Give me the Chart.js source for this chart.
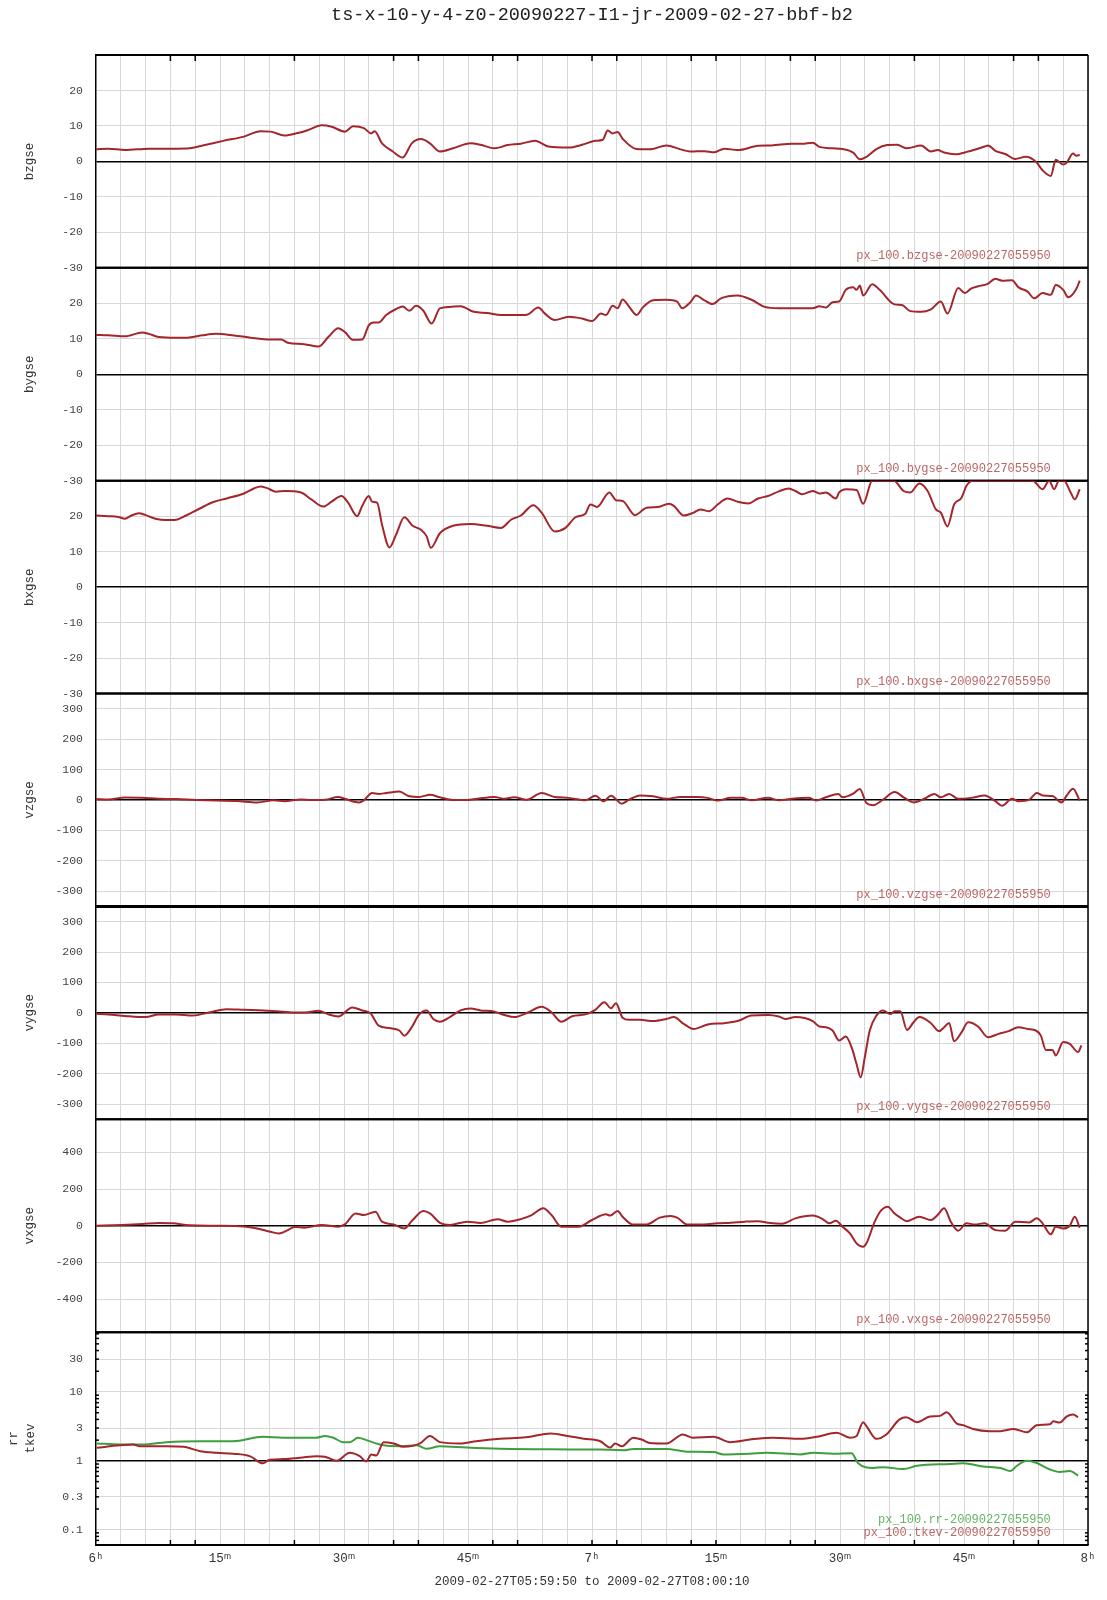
<!DOCTYPE html>
<html><head><meta charset="utf-8">
<script src="https://cdn.jsdelivr.net/npm/chart.js@4.4.1/dist/chart.umd.min.js"></script>
<style>html,body{margin:0;padding:0;background:#fff}#wrap{width:1107px;height:1600px}</style>
</head><body><div id="wrap"><canvas id="c" width="1107" height="1600"></canvas></div>
<script>
// ---- data (time in minutes after 06:00) ----
const bzT = [0,1.5,3.5,6.4,9.7,11.3,12.9,15.4,17.9,19.9,21.1,22.8,24.4,25.6,27.3,28.5,30.1,31.1,32.4,33.3,33.7,34.6,35.9,37.1,38.2,39.3,40.4,41.6,43.2,45.3,46.5,48.2,49.8,51.4,53.1,54.7,57.2,58.8,60.4,61.3,61.9,62.5,63.1,63.7,65.4,67,69,70.7,71.9,73.6,74.8,76,77.6,80.1,81.7,84.2,85.4,86.7,87.5,89.1,90.3,91.6,92.4,93.2,94.4,95.7,96.9,98.1,99.8,101,101.8,102.6,103.9,105.5,107.5,107.9,108.8,110,111.2,112.5,113.7,114.5,115.5,116.1,117,117.4,118.2,118.6,119];
const bzV = [3.4,3.6,3.2,3.6,3.6,3.7,4.5,5.8,7.0,8.5,8.4,7.3,8.0,8.8,10.2,9.8,8.4,9.9,9.4,7.9,8.5,5.1,2.8,1.1,5.1,6.3,5.1,2.8,3.7,5.1,4.7,3.7,4.6,5.0,5.8,4.2,3.9,4.7,5.8,6.1,8.7,7.9,8.3,6.4,3.5,3.4,4.5,3.4,2.8,2.9,2.6,3.6,3.2,4.4,4.5,5.0,5.0,5.3,4.1,3.7,3.5,2.5,0.6,1.3,3.5,4.6,4.7,3.7,4.5,2.8,3.2,2.5,2.0,2.8,4.2,4.5,3.0,2.1,0.7,1.3,-0.1,-2.5,-4.1,0.5,-0.9,-0.4,2.2,1.6,1.8];

const byT = [0,1.5,3.5,5.6,6.4,7.6,9.7,11.3,12.9,14.6,16.2,18.7,21.1,22.4,23.2,25.2,26.9,28.1,29.3,30.1,31.1,32.2,33.0,33.6,34.2,35.1,36.3,37.1,37.9,38.7,39.6,40.6,41.6,42.8,44.1,45.7,47.3,49.0,50.6,52.1,53.5,54.3,55.5,57.2,58.8,60.0,61.1,61.7,62.5,63.1,63.7,64.5,65.4,66.2,67.4,69.0,70.3,70.9,71.9,72.6,73.5,74.6,75.6,77.6,79.3,80.9,82.6,86.7,87.5,88.3,89.1,89.9,90.7,91.6,92.0,92.4,92.8,93.9,94.8,96.6,97.5,98.5,99.8,101.0,102.2,103.0,104.3,105.1,105.9,106.7,107.8,108.8,109.6,110.8,111.6,112.7,113.5,114.5,115.5,116.1,117.0,117.6,118.6,119.0];
const byV = [11.1,11.0,10.7,11.8,11.4,10.5,10.3,10.4,11.0,11.4,11.1,10.3,9.8,9.8,8.9,8.5,7.8,10.5,13.0,11.9,9.7,9.8,13.8,14.6,14.6,16.7,18.4,19.1,17.9,19.3,17.9,14.3,18.6,19.0,19.2,17.6,17.3,16.7,16.7,16.8,18.8,17.1,15.3,16.2,15.7,15.0,17.1,16.7,19.3,18.6,21.1,19.0,16.7,19.0,20.9,21.0,20.5,18.6,20.3,22.2,21.0,19.8,21.4,22.2,21.0,19.0,18.6,18.6,19.2,18.8,20.3,20.5,23.8,24.5,23.8,25.0,22.2,25.4,23.8,19.7,19.5,17.8,17.6,18.3,20.5,17.1,24.3,22.9,24.2,24.8,25.4,26.9,26.4,26.5,24.5,23.3,21.4,22.9,22.4,25.2,23.8,21.7,24.1,26.4];

const bxT = [0,1.5,2.7,3.5,4.3,5.2,6.0,7.2,8.4,9.7,10.9,12.5,14.2,15.8,17.9,19.1,19.9,20.7,21.8,22.8,24.8,26.0,27.5,28.5,29.7,30.5,31.6,32.2,33.0,33.4,34.0,34.6,35.5,36.3,37.3,38.3,39.3,40.0,40.5,41.6,43.2,45.3,47.3,49.0,50.2,51.4,52.9,53.9,55.5,56.8,58.0,59.2,59.8,60.6,62.1,62.9,63.7,65.2,66.6,68.0,69.3,69.9,71.1,72.3,73.1,74.2,75.2,76.4,77.6,78.9,80.1,81.3,82.6,83.8,84.6,85.4,86.7,87.5,88.3,89.5,89.9,90.7,92.0,92.8,93.9,96.5,97.7,98.5,99.6,100.6,101.6,102.2,103.0,103.8,104.7,105.3,106.1,113.3,114.5,115.3,115.9,116.5,117.1,117.9,118.4,119.0];
const bxV = [20.2,20.0,19.8,19.3,20.2,20.8,20.3,19.3,18.9,19.0,20.2,22.1,24.0,25.0,26.4,27.8,28.4,27.9,26.9,27.1,26.7,24.8,22.7,24.1,25.7,23.8,20.0,22.9,25.7,24.1,23.8,17.6,11.2,14.8,19.7,17.3,16.2,14.3,11.1,15.2,17.3,17.8,17.3,16.7,19.0,20.2,23.1,21.0,15.7,16.7,19.7,20.7,23.3,22.6,26.7,24.5,24.3,20.3,22.4,22.6,23.5,22.9,20.2,21.0,21.9,21.4,23.3,25.0,24.1,23.6,25.0,25.7,27.0,27.8,27.1,26.2,27.1,26.4,26.7,25.0,26.7,27.6,27.4,23.5,30,30,27.1,26.7,29.2,27.1,21.9,21.0,17.1,23.3,25.2,28.6,30,30,27.6,30,27.6,30,30,26.7,24.8,27.6];

const vzT = [0,1.5,3.5,5.6,7.6,9.7,12.1,14.6,17.0,19.5,21.5,22.8,24.8,26.0,27.7,29.3,30.1,31.8,32.4,33.4,34.2,35.1,36.7,37.9,39.1,40.4,41.6,43.2,44.9,46.1,48.2,49.4,50.6,52.1,53.9,55.5,57.2,59.2,60.4,61.4,62.3,63.6,64.5,65.8,67.4,69.0,70.7,72.7,74.0,75.2,76.8,78.1,79.3,81.3,82.6,84.2,86.2,87.1,88.3,89.8,90.3,91.6,92.4,93.2,94.0,95.2,96.6,97.7,98.9,100.2,101.4,102.2,103.2,104.3,105.9,107.5,108.8,109.6,110.8,111.6,112.9,113.8,114.5,115.7,116.8,117.4,118.2,119.0];
const vzV = [3,2,8,7,4,3,0,-2,-3,-8,-1,-4,2,0,1,10,4,-8,-1,23,20,23,28,12,10,17,9,0,0,4,10,4,9,1,23,10,7,-1,14,-4,14,-12,1,15,12,4,10,10,7,-2,7,7,-1,7,-1,4,7,-2,9,20,9,21,36,-10,-17,1,26,9,-8,4,20,9,20,4,7,15,-4,-19,4,-4,1,23,15,13,-8,14,37,-2];

const vyT = [0,1.5,3.5,6.0,7.6,9.7,11.7,13.8,15.8,17.9,20.3,21.9,24.0,25.6,26.9,28.1,29.3,31.0,32.2,33.2,34.2,35.5,36.7,37.3,38.2,39.1,40.0,40.8,41.6,42.8,44.1,45.3,46.5,48.2,49.4,50.6,52.3,53.9,55.1,56.3,57.6,59.2,60.4,61.5,62.3,62.9,63.7,64.5,65.8,67.4,69.0,69.9,71.1,72.3,74.0,76.0,77.6,79.3,81.3,82.6,83.4,84.6,86.7,87.5,88.3,89.1,89.9,90.7,91.4,92.0,92.5,93.0,93.6,94.4,95.2,96.1,96.6,97.3,98.1,98.9,99.6,101.0,102.0,102.6,103.2,103.8,104.7,105.5,106.7,107.9,109.2,110.4,111.6,112.7,113.7,114.3,114.9,115.7,116.1,117.0,117.8,118.8,119.2];
const vyV = [-3,-5,-10,-14,-5,-5,-9,2,12,10,8,5,1,2,7,-5,-12,18,8,-1,-42,-50,-58,-75,-47,-5,8,-20,-29,-14,8,14,8,4,-7,-14,2,20,2,-29,-11,-5,10,35,15,32,-16,-23,-23,-27,-20,-14,-36,-53,-38,-34,-27,-9,-7,-12,-20,-14,-27,-45,-47,-58,-91,-78,-113,-168,-212,-146,-58,-9,8,-4,5,5,-56,-31,-14,-34,-60,-47,-33,-93,-64,-31,-45,-80,-69,-60,-47,-53,-58,-75,-122,-122,-140,-96,-102,-129,-107];

const vxT = [0,3.1,5.6,7.6,9.3,11.3,14.6,17.9,19.5,21.1,22.1,23.2,24.0,25.2,27.3,29.3,30.1,31.4,32.4,33.8,34.6,36.0,37.3,38.3,39.6,40.4,41.6,42.8,44.9,46.5,48.6,49.8,51.4,52.7,54.1,55.1,56.3,58.4,60.0,61.7,62.2,63.1,63.7,64.9,66.6,68.2,69.5,70.3,71.5,73.5,75.2,76.8,78.5,80.1,81.3,83.0,84.6,86.7,87.9,88.7,89.5,90.3,91.2,92.0,92.8,93.2,94.2,95.0,95.8,96.5,97.3,98.1,99.6,101.0,101.8,102.6,103.4,104.3,105.3,106.3,107.5,108.8,110.0,111.2,112.9,113.8,114.5,115.5,116.1,117.0,117.8,118.4,119.0];
const vxV = [0,4,9,15,13,2,0,-4,-15,-33,-42,-24,-7,-11,4,-5,7,67,58,76,22,7,-15,31,80,67,16,4,22,15,35,22,36,58,95,58,-5,-5,31,62,55,80,49,7,7,44,53,44,7,7,13,16,22,25,16,11,40,55,36,13,27,-5,-42,-96,-115,-96,22,85,104,71,44,25,49,31,58,95,22,-27,13,7,13,-24,-27,22,18,40,13,-47,-5,-15,0,49,-11];

const rrT = [0.1,2.9,5.7,8.5,12.6,16.6,20.2,22.7,26.7,27.7,28.7,29.9,30.7,31.7,32.7,34.8,36.8,38.8,40.0,41.6,44.8,48.9,55,61.0,64.0,65.0,69.0,71.5,74.7,75.9,79.1,81.1,85.2,86.8,89.2,91.4,92.2,94.0,95.2,97.7,99.3,103.3,104.9,107.3,109.4,110.6,111.4,112.6,113.8,115.4,116.6,117.8,118.8];
const rrV = [1.79,1.73,1.73,1.87,1.93,1.93,2.24,2.17,2.17,2.3,2.17,1.87,1.87,2.17,2.0,1.68,1.63,1.68,1.5,1.63,1.56,1.5,1.47,1.46,1.43,1.49,1.49,1.36,1.34,1.24,1.27,1.31,1.24,1.31,1.27,1.29,0.92,0.79,0.81,0.76,0.85,0.9,0.92,0.83,0.79,0.71,0.85,1.0,0.93,0.75,0.69,0.71,0.61];

const tkT = [0.1,2.9,4.5,5.3,8.5,10.6,12.6,14.6,16.6,18.6,20.2,21.0,22.7,24.7,26.7,27.7,29.1,30.7,31.9,32.7,33.3,33.9,34.8,36.0,37.2,39.2,40.4,41.6,44.0,46.0,48.9,52,55,57,59,61.0,62.2,62.8,63.6,65.0,66.0,67.0,69.0,71.0,72.2,74.7,76.7,79.1,81.9,85.2,87.2,89.6,91.2,92.0,92.8,93.2,94.4,95.6,97.2,98.0,99.3,100.9,102.1,102.9,104.1,104.9,106.1,108.1,109.4,111.0,112.6,113.8,115.4,115.8,116.6,117.4,118.2,118.8];
const tkV = [1.55,1.68,1.73,1.63,1.63,1.6,1.38,1.31,1.27,1.17,0.92,1.04,1.06,1.11,1.17,1.15,1.0,1.31,1.17,0.98,1.24,1.2,1.87,1.79,1.6,1.79,2.3,1.87,1.79,1.93,2.09,2.2,2.5,2.3,2.1,1.93,1.56,1.79,1.63,2.17,2.04,1.82,1.79,2.42,2.17,2.24,1.87,2.04,2.17,2.09,2.24,2.56,2.17,2.3,3.65,3.2,2.09,2.42,4.0,4.3,3.65,4.4,4.5,5.1,3.5,3.3,2.9,2.7,2.7,2.9,2.6,3.3,3.4,3.75,3.6,4.4,4.7,4.3];

// ---- ticks / labels ----
const ticksB = [-30,-20,-10,0,10,20];
const ticksV = [-300,-200,-100,0,100,200,300];
const ticksVx = [-400,-200,0,200,400];
const ticksLog = [0.1,0.3,1,3,10,30];
const xLabelMinutes = [0,15,30,45,60,75,90,105,120];
const xLabels = ['6ʰ','15ᵐ','30ᵐ','45ᵐ','7ʰ','15ᵐ','30ᵐ','45ᵐ','8ʰ'];
const markMinutes = [9,12,24,36,39,48,51,60,63,72,75,84,87,99,111,114];
const gridMinutes = Array.from({length:41},(_,i)=>i*3);
const stamp = '20090227055950';
const chartTitle = 'ts-x-10-y-4-z0-20090227-I1-jr-2009-02-27-bbf-b2';
const xTitle = '2009-02-27T05:59:50 to 2009-02-27T08:00:10';

const RED = '#a3262c', GREEN = '#3e9e3e';
const FONT = 'Liberation Mono, DejaVu Sans Mono, monospace';

const panels = [
  {id:'y1', title:'bzgse', min:-30, max:30, ticks:ticksB, base:0},
  {id:'y2', title:'bygse', min:-30, max:30, ticks:ticksB, base:0},
  {id:'y3', title:'bxgse', min:-30, max:30, ticks:ticksB, base:0},
  {id:'y4', title:'vzgse', min:-350, max:350, ticks:ticksV, base:0},
  {id:'y5', title:'vygse', min:-350, max:350, ticks:ticksV, base:0},
  {id:'y6', title:'vxgse', min:-580, max:580, ticks:ticksVx, base:0},
  {id:'y7', title:['rr','tkev'], min:0.06, max:74, ticks:ticksLog, base:1, log:true}
];

const series = [
  {name:'bzgse', t:bzT, v:bzV, axis:'y1', color:RED},
  {name:'bygse', t:byT, v:byV, axis:'y2', color:RED},
  {name:'bxgse', t:bxT, v:bxV, axis:'y3', color:RED},
  {name:'vzgse', t:vzT, v:vzV, axis:'y4', color:RED},
  {name:'vygse', t:vyT, v:vyV, axis:'y5', color:RED},
  {name:'vxgse', t:vxT, v:vxV, axis:'y6', color:RED},
  {name:'tkev', t:tkT, v:tkV, axis:'y7', color:RED},
  {name:'rr', t:rrT, v:rrV, axis:'y7', color:GREEN}
];

const scales = {
  x: {
    type:'linear', min:0, max:120, position:'bottom',
    afterBuildTicks: s => { s.ticks = gridMinutes.map(v => ({value:v})); },
    afterFit: s => { s.height = 55; },
    ticks:{autoSkip:false, maxRotation:0, minRotation:0, padding:6, color:'#333',
      font:{family:FONT, size:12.5},
      callback: v => { const i = xLabelMinutes.indexOf(v); return i >= 0 ? xLabels[i] : ''; }},
    grid:{drawTicks:false, color:'#d8d8d8', lineWidth:1},
    border:{display:true, color:'#000', width:1.5},
    title:{display:true, text:xTitle, color:'#333', font:{family:FONT, size:12.5, lineHeight:1.2}, padding:{top:0, bottom:10.8}}
  }
};
panels.forEach((p, i) => {
  scales[p.id] = {
    type: p.log ? 'logarithmic' : 'linear',
    position:'left', stack:'panels', stackWeight:1, weight: panels.length - i,
    min:p.min, max:p.max,
    afterBuildTicks: s => { s.ticks = p.ticks.map(v => ({value:v})); },
    afterFit: s => { s.width = 96; },
    ticks:{autoSkip:false, padding:13, color:'#444', font:{family:FONT, size:11.5}, callback: v => String(v)},
    grid:{drawTicks:false,
      color: c => (c.tick && c.tick.value === p.base) ? '#000' : '#d8d8d8',
      lineWidth: c => (c.tick && c.tick.value === p.base) ? 1.5 : 1},
    border:{display:true, color:'#000', width:1.5},
    title: p.log
      ? {display:true, text:p.title, color:'#333', font:{family:FONT, size:12.5, lineHeight:17/12.5}, padding:{top:4.8, bottom:0}}
      : {display:true, text:p.title, color:'#333', font:{family:FONT, size:12.5, lineHeight:1.2}, padding:{top:22.2, bottom:0}}
  };
});

const deco = {
  id:'deco',
  beforeDatasetsDraw(chart) {
    const ctx = chart.ctx, ca = chart.chartArea, xs = chart.scales.x;
    ctx.save();
    ctx.strokeStyle = '#000';
    const line = (x1,y1,x2,y2,w) => { ctx.lineWidth = w; ctx.beginPath(); ctx.moveTo(x1,y1); ctx.lineTo(x2,y2); ctx.stroke(); };
    panels.forEach(p => {
      const s = chart.scales[p.id];
      line(ca.left, s.top, ca.right, s.top, 2);
      line(ca.left, s.bottom, ca.right, s.bottom, p.id === 'y4' ? 3 : 2);
    });
    line(ca.right, ca.top, ca.right, ca.bottom, 1.5);
    markMinutes.forEach(m => {
      const x = xs.getPixelForValue(m);
      line(x, ca.top, x, ca.top + 6, 1.5);
      line(x, ca.bottom, x, ca.bottom - 5, 1.5);
    });
    const ls = chart.scales.y7;
    for (let e = -2; e <= 1; e++) {
      for (let k = 2; k <= 9; k++) {
        const v = k * Math.pow(10, e);
        if (v < ls.min || v > ls.max) continue;
        const y = ls.getPixelForValue(v);
        line(ca.left, y, ca.left + 3, y, 1.5);
        line(ca.right, y, ca.right - 3, y, 1.5);
      }
    }
    ctx.restore();
  },
  afterDatasetsDraw(chart) {
    const ctx = chart.ctx;
    ctx.save();
    ctx.font = '12px ' + FONT;
    ctx.textAlign = 'right';
    ctx.textBaseline = 'middle';
    const xr = chart.scales.x.getPixelForValue(115.5);
    series.forEach(s => {
      const sc = chart.scales[s.axis];
      let off = 12;
      if (s.name === 'rr') off = 25;
      ctx.fillStyle = s.color === GREEN ? '#66b466' : '#bb6666';
      ctx.fillText('px_100.' + s.name + '-' + stamp, xr, sc.bottom - off);
    });
    ctx.restore();
  }
};

new Chart(document.getElementById('c'), {
  type:'line',
  data:{
    datasets: series.map(s => ({
      label: s.name,
      data: s.t.map((x, i) => ({x, y:s.v[i]})),
      yAxisID: s.axis, xAxisID:'x',
      borderColor: s.color, borderWidth:2, pointRadius:0,
      cubicInterpolationMode:'monotone', fill:false
    }))
  },
  options:{
    responsive:false, animation:false, devicePixelRatio:1,
    layout:{padding:{left:0, right:19, top:0, bottom:0}},
    scales,
    plugins:{
      legend:{display:false}, tooltip:{enabled:false},
      title:{display:true, fullSize:false, text:chartTitle, color:'#222',
        font:{family:FONT, size:18.5, weight:'normal', lineHeight:1.2}, padding:{top:3.9, bottom:28.9}}
    }
  },
  plugins:[deco]
});
</script></body></html>
